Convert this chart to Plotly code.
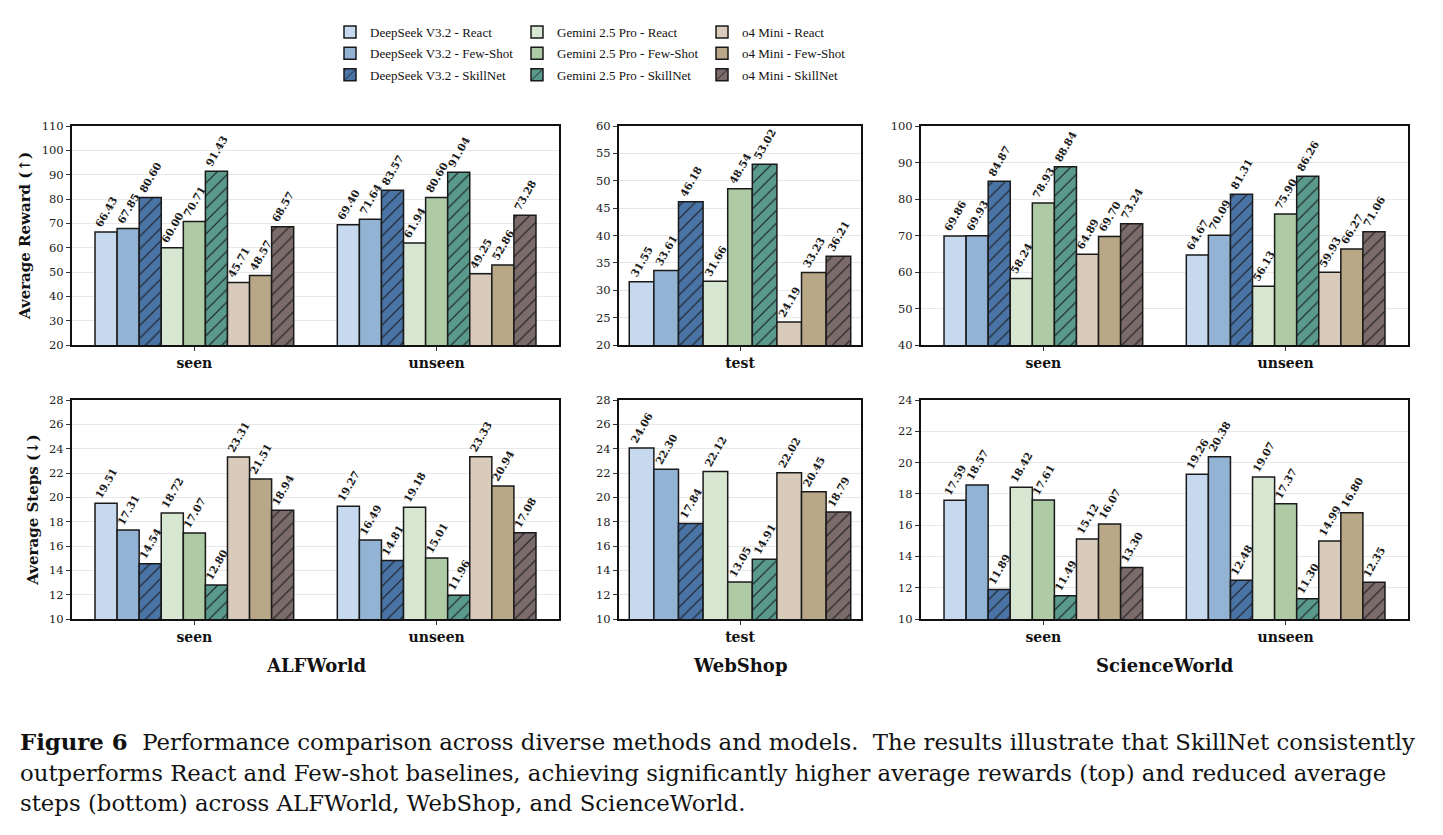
import plotly.graph_objects as go

W, H = 1443, 835

models = ["DeepSeek V3.2", "Gemini 2.5 Pro", "o4 Mini"]
methods = ["React", "Few-Shot", "SkillNet"]
colors = {
    "DeepSeek V3.2": ["#c6d9ee", "#93b3d4", "#4a74a6"],
    "Gemini 2.5 Pro": ["#d8e7d2", "#aecba6", "#5a9a8c"],
    "o4 Mini": ["#d8cbbb", "#b8a887", "#7b6b6b"],
}

alf_cats = ["seen", "unseen"]
web_cats = ["test"]
sci_cats = ["seen", "unseen"]

# values per split ordered: DS(React,FS,SN), Gemini(React,FS,SN), o4(React,FS,SN)
alf_reward_seen = [66.43, 67.85, 80.60, 60.00, 70.71, 91.43, 45.71, 48.57, 68.57]
alf_reward_unseen = [69.40, 71.64, 83.57, 61.94, 80.60, 91.04, 49.25, 52.86, 73.28]
web_reward_test = [31.55, 33.61, 46.18, 31.66, 48.54, 53.02, 24.19, 33.23, 36.21]
sci_reward_seen = [69.86, 69.93, 84.87, 58.24, 78.93, 88.84, 64.89, 69.70, 73.24]
sci_reward_unseen = [64.67, 70.09, 81.31, 56.13, 75.90, 86.26, 59.93, 66.27, 71.06]

alf_steps_seen = [19.51, 17.31, 14.54, 18.72, 17.07, 12.80, 23.31, 21.51, 18.94]
alf_steps_unseen = [19.27, 16.49, 14.81, 19.18, 15.01, 11.96, 23.33, 20.94, 17.08]
web_steps_test = [24.06, 22.30, 17.84, 22.12, 13.05, 14.91, 22.02, 20.45, 18.79]
sci_steps_seen = [17.59, 18.57, 11.89, 18.42, 17.61, 11.49, 15.12, 16.07, 13.30]
sci_steps_unseen = [19.26, 20.38, 12.48, 19.07, 17.37, 11.30, 14.99, 16.80, 12.35]

benchmarks = ["ALFWorld", "WebShop", "ScienceWorld"]

panels = [
    # row, col, categories, list of series per category, y range, dtick
    (1, 1, alf_cats, [alf_reward_seen, alf_reward_unseen], [20, 110], 10),
    (1, 2, web_cats, [web_reward_test], [20, 60], 5),
    (1, 3, sci_cats, [sci_reward_seen, sci_reward_unseen], [40, 100], 10),
    (2, 1, alf_cats, [alf_steps_seen, alf_steps_unseen], [10, 28], 2),
    (2, 2, web_cats, [web_steps_test], [10, 28], 2),
    (2, 3, sci_cats, [sci_steps_seen, sci_steps_unseen], [10, 24], 2),
]

col_px = {1: (72, 559), 2: (619, 861), 3: (921, 1408)}
row_px = {1: (126, 345), 2: (400, 619)}
xranges = {1: [-0.505, 1.505], 2: [-0.448, 0.448], 3: [-0.505, 1.505]}

SERIF = "DejaVu Serif"

fig = go.Figure()
layout = {}

for idx, (r, c, cats, vals, yr, dt) in enumerate(panels):
    n = idx + 1
    xa = "x" if n == 1 else f"x{n}"
    ya = "y" if n == 1 else f"y{n}"
    for mi, model in enumerate(models):
        for ki, method in enumerate(methods):
            j = mi * 3 + ki
            ys = [v[j] for v in vals]
            hatched = method == "SkillNet"
            marker = dict(
                color=colors[model][ki],
                line=dict(color="#1a1a1a", width=1.5),
            )
            if hatched:
                marker["pattern"] = dict(
                    shape="/", fgcolor="#1a1a1a", bgcolor=colors[model][ki],
                    size=9, solidity=0.12, fillmode="replace",
                )
            fig.add_trace(go.Bar(
                x=cats, y=ys, xaxis=xa, yaxis=ya,
                name=f"{model} - {method}",
                marker=marker,
                text=[f"{v:.2f}" for v in ys],
                textposition="outside",
                textangle=-60,
                constraintext="none",
                cliponaxis=False,
                textfont=dict(family=SERIF, size=10.5, color="#1a1a1a", weight="bold"),
                showlegend=(n == 1),
                legend=["legend", "legend2", "legend3"][mi],
                legendgroup=f"{model}-{method}",
            ))
    x0, x1 = col_px[c]
    t0, t1 = row_px[r]
    key_x = "xaxis" if n == 1 else f"xaxis{n}"
    key_y = "yaxis" if n == 1 else f"yaxis{n}"
    layout[key_x] = dict(
        domain=[x0 / W, x1 / W], anchor=ya, range=xranges[c], type="category",
        showline=True, mirror=True, linecolor="#111", linewidth=2,
        ticks="outside", ticklen=4, tickcolor="#333", tickwidth=1,
        tickfont=dict(family=SERIF, size=14, color="#111", weight="bold"),
        showgrid=False, automargin=False, fixedrange=True,
    )
    layout[key_y] = dict(
        domain=[1 - t1 / H, 1 - t0 / H], anchor=xa, range=yr, dtick=dt,
        showline=True, mirror=True, linecolor="#111", linewidth=2,
        ticks="outside", ticklen=4, tickcolor="#333", tickwidth=1,
        tickfont=dict(family=SERIF, size=11.5, color="#222"),
        showgrid=True, gridcolor="#e8e8e8", gridwidth=1,
        zeroline=False, automargin=False,
    )
    if c == 1:
        layout[key_y]["title"] = dict(
            text="Average Reward (↑)" if r == 1 else "Average Steps (↓)",
            font=dict(family=SERIF, size=15, color="#111", weight="bold"),
            standoff=7,
        )

annotations = []
for bi, b in enumerate(benchmarks):
    x0, x1 = col_px[bi + 1]
    annotations.append(dict(
        text=f"<b>{b}</b>", x=(x0 + x1) / 2 / W, y=1 - 665 / H, xref="paper", yref="paper",
        showarrow=False, font=dict(family=SERIF, size=18, color="#111"),
        xanchor="center", yanchor="middle",
    ))

caption_lines = [
    "<b>Figure 6</b>  Performance comparison across diverse methods and models.  The results illustrate that SkillNet consistently",
    "outperforms React and Few-shot baselines, achieving significantly higher average rewards (top) and reduced average",
    "steps (bottom) across ALFWorld, WebShop, and ScienceWorld.",
]
caption_y = [742, 773, 803]
for line, yy in zip(caption_lines, caption_y):
    annotations.append(dict(
        text=line, x=18 / W, y=1 - yy / H, xref="paper", yref="paper",
        showarrow=False, font=dict(family="DejaVu Serif", size=22.8, color="#111"),
        xanchor="left", yanchor="middle", align="left",
    ))

legend_common = dict(
    orientation="v", yanchor="top", xanchor="left",
    font=dict(family="Liberation Serif", size=13, color="#111"),
    bgcolor="rgba(0,0,0,0)", tracegroupgap=1.5, itemwidth=30,
)
layout["legend"] = dict(legend_common, x=330 / W, y=1 - 17 / H)
layout["legend2"] = dict(legend_common, x=517 / W, y=1 - 17 / H)
layout["legend3"] = dict(legend_common, x=702 / W, y=1 - 17 / H)

fig.update_layout(
    **layout,
    width=W, height=H,
    margin=dict(l=0, r=0, t=0, b=0),
    paper_bgcolor="white", plot_bgcolor="white",
    barmode="group", bargap=0.18, bargroupgap=0,
    annotations=annotations,
)

fig.write_html("out.html")
